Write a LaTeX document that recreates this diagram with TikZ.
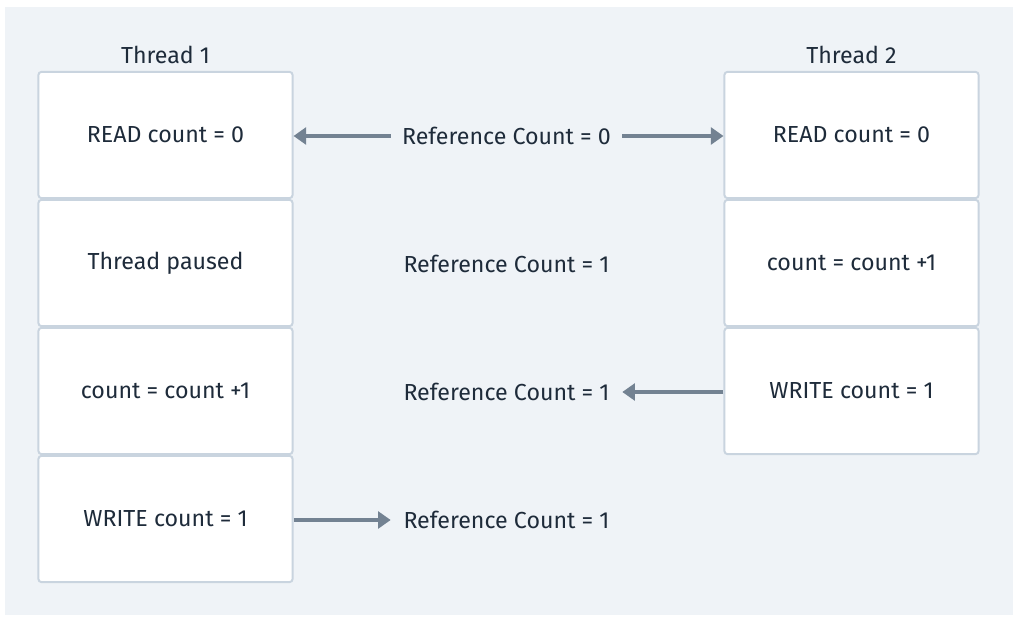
\documentclass[tikz,border=0pt]{standalone}
\usepackage{fontspec}
\setmainfont{Fira Sans}
\usetikzlibrary{arrows.meta}
\definecolor{bgcol}{HTML}{EFF3F7}
\definecolor{boxline}{HTML}{C9D4DF}
\definecolor{arrowcol}{HTML}{738292}
\definecolor{txtcol}{HTML}{1E2B3A}

\begin{document}
\begin{tikzpicture}[x=0.025cm,y=-0.025cm,
  every node/.style={text=txtcol,font=\fontsize{16.5}{19}\selectfont},
  stepbox/.style={draw=boxline,line width=1.4pt,fill=white,rounded corners=2pt,
    minimum width=6.35cm,minimum height=3.15cm,inner sep=0pt},
  refcount/.style={minimum width=5.775cm,inner sep=0pt},
  flow/.style={draw=arrowcol,line width=2.8pt,-{Triangle[length=9pt,width=12pt]}}]
\useasboundingbox (0,0) rectangle (1020,623);
\fill[bgcol] (5,7) rectangle (1013,615);

% thread 1
\node[stepbox] (read1) at (165.5,135) {READ count = 0};
\node[stepbox] (pause1) at (165.5,263) {Thread paused};
\node[stepbox] (inc1) at (165.5,391) {count = count +1};
\node[stepbox] (write1) at (165.5,519) {WRITE count = 1};
\node[anchor=base] (t1) at (165.5,64) {Thread 1};

% thread 2
\node[stepbox] (read2) at (851.5,135) {READ count = 0};
\node[stepbox] (inc2) at (851.5,263) {count = count +1};
\node[stepbox] (write2) at (851.5,391) {WRITE count = 1};
\node[anchor=base] (t2) at (851.5,64) {Thread 2};

% reference count
\node[refcount] (ref0) at (506.5,136) {Reference Count = 0};
\node[refcount] (ref1) at (506.5,264) {Reference Count = 1};
\node[refcount] (ref2) at (506.5,392) {Reference Count = 1};
\node[refcount] (ref3) at (506.5,520) {Reference Count = 1};

\draw[flow] (ref0.west) to (read1.east |- ref0.west);
\draw[flow] (ref0.east) to (read2.west |- ref0.east);
\draw[flow] (write2.west |- ref2.east) to (ref2.east);
\draw[flow] (write1.east |- ref3.west) to (ref3.west);
\end{tikzpicture}
\end{document}
